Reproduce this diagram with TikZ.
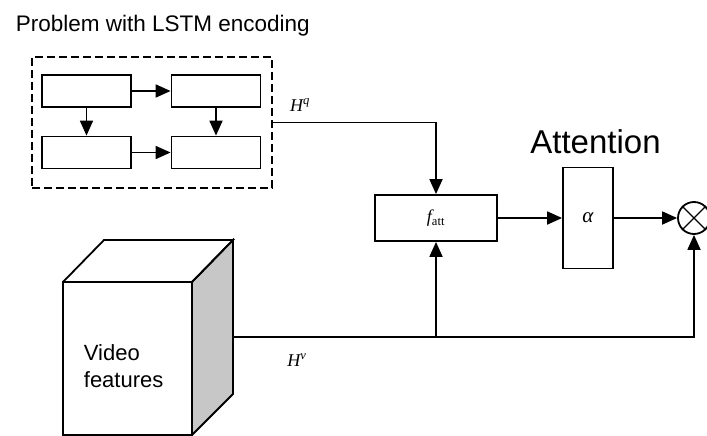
\documentclass[tikz,border=0pt]{standalone}
\usepackage{fontspec}
\setmainfont{Liberation Sans}
\newfontfamily\tms{Liberation Serif}
\usetikzlibrary{
  arrows.meta % For arrow tips
}

\begin{document}
\begin{tikzpicture}[
    x=1pt, y=-1pt, % pixel-like units, y downwards
    line width=1.8pt, % Default line thickness
    >={Triangle[length=15pt,width=13pt]}, % Default arrow tip
    cell/.style={draw, minimum width=89pt, minimum height=32pt, inner sep=0pt}, % LSTM cells
    block/.style={draw, inner sep=0pt}, % Processing blocks
    lbl/.style={font=\tms\itshape\fontsize{18}{20}\selectfont}, % Variable labels
  ]

  \useasboundingbox (0,0) rectangle (707,436);

  % Title
  \node[anchor=base west, inner sep=0pt, font=\fontsize{22.5}{27}\selectfont] (title) at (15,32) {Problem with LSTM encoding};

  % LSTM cells
  \node[cell] (lstm1) at (86.5,91) {};
  \node[cell] (lstm2) at (216,91) {};
  \node[cell] (lstm3) at (86.5,152.5) {};
  \node[cell] (lstm4) at (216,152.5) {};
  \node[draw, dash pattern=on 8pt off 4pt, minimum width=240pt, minimum height=131pt] (enc) at (152,122.5) {};

  \draw[->] (lstm1) -- (lstm2);
  \draw[->] (lstm3) -- (lstm4);
  \draw[->] (lstm1) -- (lstm3);
  \draw[->] (lstm2) -- (lstm4);

  % Attention blocks
  \node[block, minimum width=122pt, minimum height=46pt, lbl] (fatt) at (436,218) {f\textsubscript{\upshape att}};
  \node[block, minimum width=50pt, minimum height=101pt, lbl, font=\tms\itshape\fontsize{21}{22}\selectfont] (alpha) at (588,218) {α};
  \node[anchor=base, font=\fontsize{33}{36}\selectfont] (attn) at (595.5,153) {Attention};
  \node[draw, circle, minimum size=32pt, inner sep=0pt] (prod) at (694,218) {};
  \draw[line width=1.4pt] (prod.north west) -- (prod.south east) (prod.north east) -- (prod.south west);

  \draw[->] (enc.east) -| (fatt.north);
  \node[lbl] (hq) at (300,105) {H\textsuperscript{q}};
  \draw[->] (fatt) -- (alpha);
  \draw[->] (alpha) -- (prod);

  % Video feature cube
  \filldraw[fill=black!22] (192,282) -- (233,240) -- (233,394) -- (192,435) -- cycle;
  \draw (63,282) -- (104,240) -- (233,240) -- (192,282);
  \draw (63,282) rectangle (192,435);
  \node[anchor=west, inner sep=0pt, align=left, font=\fontsize{22}{27}\selectfont] (video) at (83,366) {Video\\features};

  \coordinate (vout) at (233,337);
  \coordinate (split) at (fatt.south |- vout);
  \draw[->] (vout) -| (prod.south);
  \draw[->] (split) -- (fatt.south);
  \node[lbl] (hv) at (297,360) {H\textsuperscript{v}};

\end{tikzpicture}
\end{document}
